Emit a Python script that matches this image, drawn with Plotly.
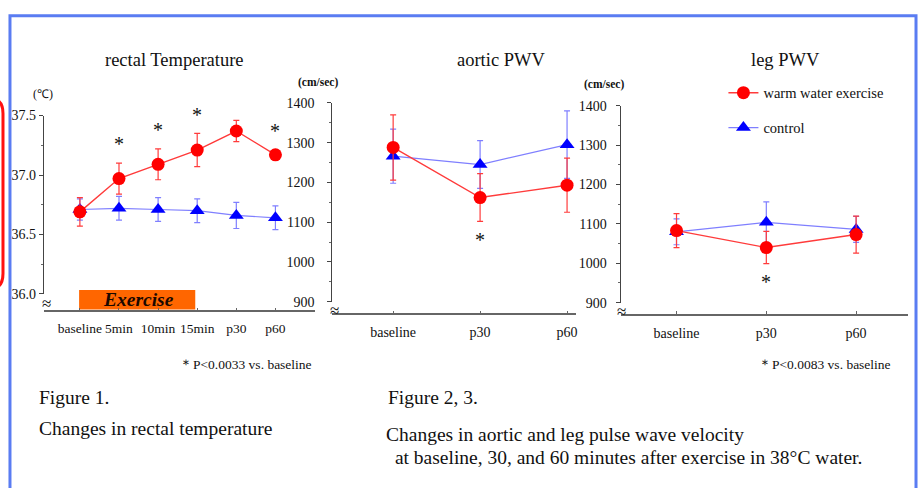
import plotly.graph_objects as go

W, H = 923, 488
def px(x): return x / W
def py(y): return 1 - y / H

# ---------------- data ----------------
temp_cats = ["baseline", "5min", "10min", "15min", "p30", "p60"]
temp_ex = [36.69, 36.97, 37.09, 37.21, 37.37, 37.17]
temp_ex_err = [0.12, 0.13, 0.13, 0.14, 0.09, 0.04]
temp_ctl = [36.71, 36.72, 36.71, 36.70, 36.66, 36.64]
temp_ctl_err = [0.09, 0.10, 0.10, 0.10, 0.11, 0.10]
temp_sig = [False, True, True, True, True, True]

pwv_cats = ["baseline", "p30", "p60"]
aortic_ex = [1288, 1162, 1193]
aortic_ex_err = [82, 60, 68]
aortic_ctl = [1266, 1245, 1295]
aortic_ctl_err = [68, 60, 85]
aortic_sig = [False, True, False]

leg_ex = [1083, 1040, 1073]
leg_ex_err = [43, 41, 47]
leg_ctl = [1080, 1104, 1086]
leg_ctl_err = [33, 52, 33]
leg_sig = [False, True, False]

temp_ticks = [36.0, 36.5, 37.0, 37.5]
pwv_ticks = [900, 1000, 1100, 1200, 1300, 1400]

SERIF = "Liberation Serif, Times New Roman, serif"
RED = "#ff0000"
RED_LINE = "#ff3b3b"
BLUE = "#0000ff"
BLUE_LINE = "#7f7fff"

fig = go.Figure()

def add_pair(cats, ex, ex_err, ctl, ctl_err, xa, ya, show):
    fig.add_trace(go.Scatter(
        x=cats, y=ctl, xaxis=xa, yaxis=ya, mode="lines+markers",
        name="control", legendgroup="ctl", legendrank=2, showlegend=show,
        line=dict(color=BLUE_LINE, width=1.2),
        marker=dict(symbol="triangle-up", size=13, color=BLUE),
        error_y=dict(type="data", array=ctl_err, color=BLUE_LINE, thickness=1.2, width=3),
        cliponaxis=False))
    fig.add_trace(go.Scatter(
        x=cats, y=ex, xaxis=xa, yaxis=ya, mode="lines+markers",
        name="warm water exercise", legendgroup="ex", legendrank=1, showlegend=show,
        line=dict(color=RED_LINE, width=1.4),
        marker=dict(symbol="circle", size=13, color=RED),
        error_y=dict(type="data", array=ex_err, color=RED_LINE, thickness=1.2, width=3),
        cliponaxis=False))

add_pair(temp_cats, temp_ex, temp_ex_err, temp_ctl, temp_ctl_err, "x", "y", False)
add_pair(pwv_cats, aortic_ex, aortic_ex_err, aortic_ctl, aortic_ctl_err, "x2", "y2", False)
add_pair(pwv_cats, leg_ex, leg_ex_err, leg_ctl, leg_ctl_err, "x3", "y3", True)

annotations = []
def star(xref, yref, x, y):
    annotations.append(dict(xref=xref, yref=yref, x=x, y=y, text="*", showarrow=False,
                            font=dict(family=SERIF, size=20, color="#111"), yshift=1))

for c, v, e, s in zip(temp_cats, temp_ex, temp_ex_err, temp_sig):
    if s:
        star("x", "y", c, v + e + 0.15)
for c, v, e, s in zip(pwv_cats, aortic_ex, aortic_ex_err, aortic_sig):
    if s:
        star("x2", "y2", c, v - e - 50)
for c, v, e, s in zip(pwv_cats, leg_ex, leg_ex_err, leg_sig):
    if s:
        star("x3", "y3", c, v - e - 50)

def txt(x, y, text, size, xanchor="center", color="#111"):
    annotations.append(dict(xref="paper", yref="paper", x=px(x), y=py(y), text=text,
                            showarrow=False, xanchor=xanchor, yanchor="middle",
                            font=dict(family=SERIF, size=size, color=color)))

# titles
txt(175, 55, "rectal Temperature", 18.5)
txt(502, 55, "aortic PWV", 18.5)
txt(787, 55, "leg PWV", 18.5)
# units
txt(43, 90, "(℃)", 12)
txt(319, 78, "<b>(cm/sec)</b>", 11.5)
txt(605, 80, "<b>(cm/sec)</b>", 11.5)
# axis break marks
txt(47, 306, "≈", 17)
txt(335, 313, "≈", 17)
txt(623, 314, "≈", 17)
# footnotes
txt(315, 369, "＊P<0.0033 vs. baseline", 13.5, xanchor="right")
txt(895, 369, "＊P<0.0083 vs. baseline", 13.5, xanchor="right")
# figure captions
txt(37, 403, "Figure 1.", 19.5, xanchor="left")
txt(37, 435, "Changes in rectal temperature", 19.5, xanchor="left")
txt(387, 403, "Figure 2, 3.", 19.5, xanchor="left")
txt(385, 441, "Changes in aortic and leg pulse wave velocity", 19.5, xanchor="left")
txt(389, 465, " at baseline, 30, and 60 minutes after exercise in 38°C water.", 19.5, xanchor="left")

# exercise bar
i0 = temp_cats.index("baseline")
i1 = temp_cats.index("15min")
annotations.append(dict(xref="x", yref="paper", x=(i0 + i1) / 2, y=py(302),
                        text="<b><i>Exercise</i></b>", showarrow=False,
                        font=dict(family=SERIF, size=19.5, color="#1a0800")))

shapes = [
    dict(type="rect", xref="x", yref="paper", x0=i0 - 0.02, x1=i1 - 0.05,
         y0=py(312), y1=py(292), fillcolor="#ff6600", line=dict(width=0), layer="below"),
    # slide frame
    dict(type="rect", xref="paper", yref="paper", x0=px(10), x1=px(918), y0=py(520), y1=py(9),
         line=dict(color="#5a7cf2", width=3), fillcolor="rgba(0,0,0,0)"),
    # red highlight frame at far left
    dict(type="path", xref="paper", yref="paper",
         path=f"M {px(-20)},{py(95)} L {px(-8)},{py(95)} Q {px(3)},{py(95)} {px(3)},{py(110)} "
              f"L {px(3)},{py(275)} Q {px(3)},{py(290)} {px(-8)},{py(290)} L {px(-20)},{py(290)}",
         line=dict(color="#ff1010", width=3)),
]

axis_common = dict(showgrid=False, zeroline=False, showline=True)

def xax(dom, pos, lo, hi, fsize):
    return dict(domain=[px(dom[0]), px(dom[1])], anchor="free", position=py(pos),
                type="category", range=[lo, hi], ticks="inside", ticklen=3, tickcolor="#666",
                linecolor="#666", linewidth=1.5, ticklabelstandoff=5, tickangle=0,
                tickfont=dict(family=SERIF, size=fsize, color="#111"), **axis_common)

def yax(dom, rng, tickvals, fmt, dtick_minor, standoff, anchor):
    return dict(domain=[py(dom[0]), py(dom[1])], range=rng, tickvals=tickvals, anchor=anchor,
                ticktext=[fmt.format(t) for t in tickvals], ticks="outside", ticklen=4,
                tickcolor="#444", ticklabelstandoff=standoff, linecolor="#444", linewidth=1,
                minor=dict(dtick=dtick_minor, ticks="outside", ticklen=2, tickcolor="#666"),
                tickfont=dict(family=SERIF, size=14, color="#111"), **axis_common)

fig.update_layout(
    width=W, height=H, margin=dict(l=0, r=0, t=0, b=0),
    paper_bgcolor="white", plot_bgcolor="rgba(0,0,0,0)",
    font=dict(family=SERIF, color="#111"),
    xaxis=xax((44, 316), 314, -0.92, 6.02, 13.5),
    yaxis=yax((296, 112), [36.0, 37.5], temp_ticks, "{:.1f}", 0.25, 0, "x"),
    xaxis2=xax((333, 577), 317, -0.70, 2.10, 14),
    yaxis2=yax((304, 99), [900, 1400], pwv_ticks, "{:d}", 50, 10, "x2"),
    xaxis3=xax((622, 910), 318, -0.622, 2.578, 14),
    yaxis3=yax((305, 102), [900, 1400], pwv_ticks, "{:d}", 50, 6, "x3"),
    showlegend=True,
    legend=dict(x=px(725), y=py(72), xanchor="left", yanchor="top",
                font=dict(family=SERIF, size=14.5, color="#111"),
                bgcolor="rgba(0,0,0,0)", traceorder="grouped", tracegroupgap=13),
    annotations=annotations, shapes=shapes,
)

post = ("var s=document.documentElement.style;s.margin='0';s.padding='0';s.overflow='hidden';"
        "var b=document.body.style;b.margin='0';b.padding='0';b.overflow='hidden';b.height='488px';")
fig.write_html("out.html", config={"displayModeBar": False}, post_script=post)
